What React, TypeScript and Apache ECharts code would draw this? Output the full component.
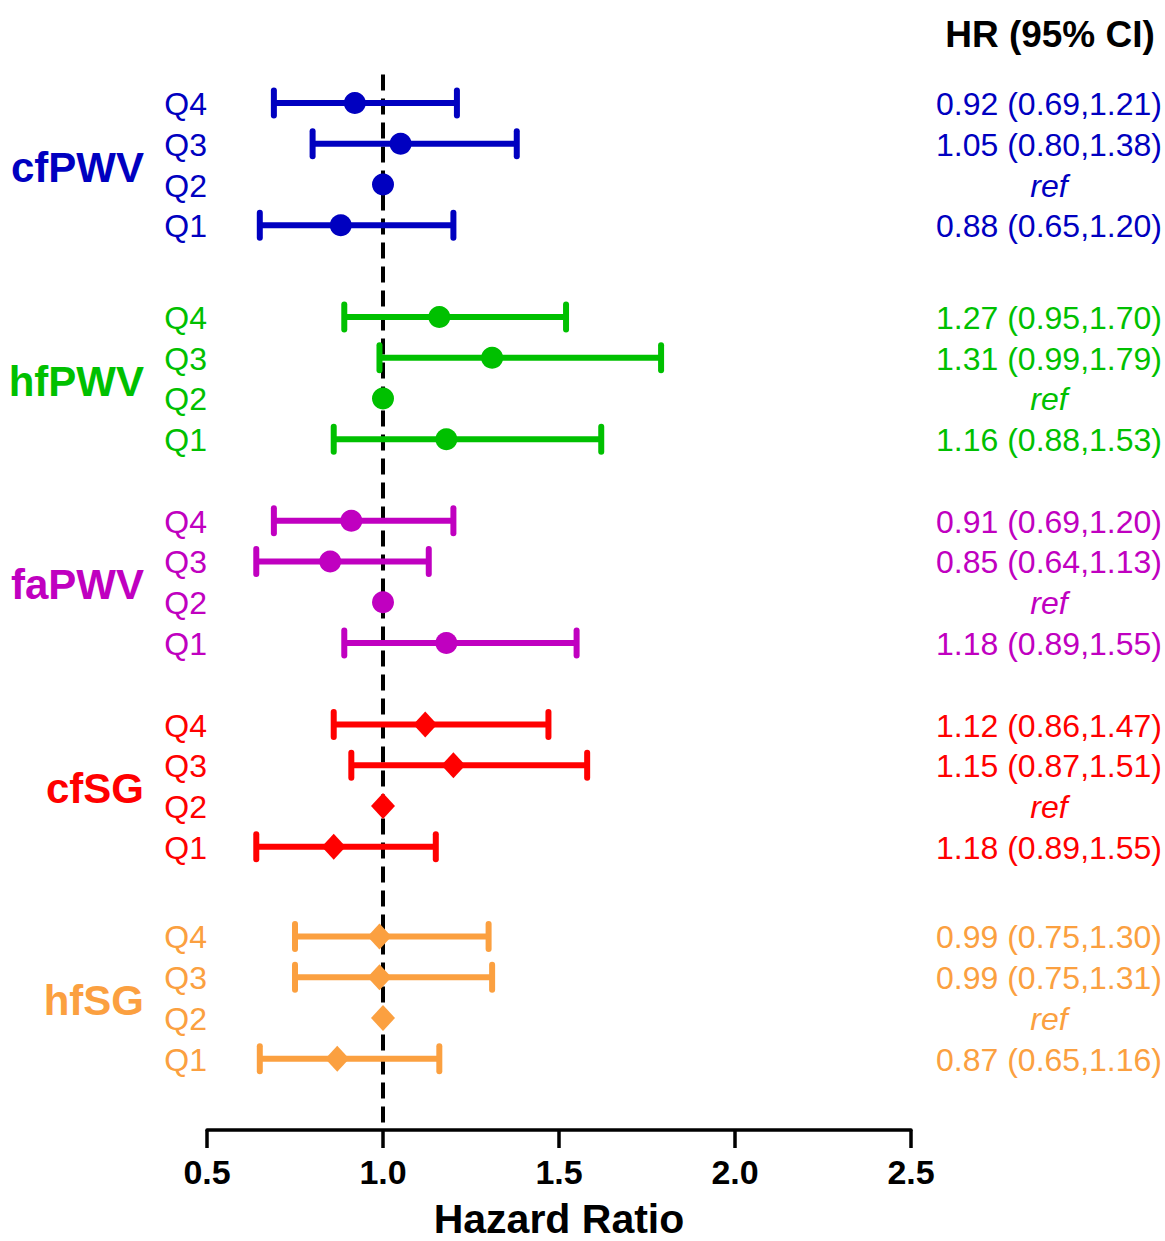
import React, { useEffect, useRef } from "react";
import * as echarts from "echarts";

// ---------- data ----------
const groups = ["cfPWV", "hfPWV", "faPWV", "cfSG", "hfSG"];
const groupColors = ["#0000C0", "#00C000", "#C000C0", "#FF0000", "#FBA040"];
const groupSymbols = ["circle", "circle", "circle", "diamond", "diamond"];
const quartiles = ["Q4", "Q3", "Q2", "Q1"];
// row index of each group's first quartile (Q4) on the vertical scale
const groupRowStart = [0, 5.25, 10.25, 15.25, 20.45];

const xTicks = [0.5, 1.0, 1.5, 2.0, 2.5];
const refHR = 1.0;

// plotted hazard ratios and confidence limits (Q4, Q3, Q2, Q1)
const cfPWV_hr = [0.92, 1.05, 1.0, 0.88];
const cfPWV_lo = [0.69, 0.8, null, 0.65];
const cfPWV_hi = [1.21, 1.38, null, 1.2];

const hfPWV_hr = [1.16, 1.31, 1.0, 1.18];
const hfPWV_lo = [0.89, 0.99, null, 0.86];
const hfPWV_hi = [1.52, 1.79, null, 1.62];

const faPWV_hr = [0.91, 0.85, 1.0, 1.18];
const faPWV_lo = [0.69, 0.64, null, 0.89];
const faPWV_hi = [1.2, 1.13, null, 1.55];

const cfSG_hr = [1.12, 1.2, 1.0, 0.86];
const cfSG_lo = [0.86, 0.91, null, 0.64];
const cfSG_hi = [1.47, 1.58, null, 1.15];

const hfSG_hr = [0.99, 0.99, 1.0, 0.87];
const hfSG_lo = [0.75, 0.75, null, 0.65];
const hfSG_hi = [1.3, 1.31, null, 1.16];

// printed HR (95% CI) column
const cfPWV_text = ["0.92 (0.69,1.21)", "1.05 (0.80,1.38)", "ref", "0.88 (0.65,1.20)"];
const hfPWV_text = ["1.27 (0.95,1.70)", "1.31 (0.99,1.79)", "ref", "1.16 (0.88,1.53)"];
const faPWV_text = ["0.91 (0.69,1.20)", "0.85 (0.64,1.13)", "ref", "1.18 (0.89,1.55)"];
const cfSG_text = ["1.12 (0.86,1.47)", "1.15 (0.87,1.51)", "ref", "1.18 (0.89,1.55)"];
const hfSG_text = ["0.99 (0.75,1.30)", "0.99 (0.75,1.31)", "ref", "0.87 (0.65,1.16)"];

const headerText = "HR (95% CI)";
const xAxisTitle = "Hazard Ratio";

const allHR = [cfPWV_hr, hfPWV_hr, faPWV_hr, cfSG_hr, hfSG_hr];
const allLo = [cfPWV_lo, hfPWV_lo, faPWV_lo, cfSG_lo, hfSG_lo];
const allHi = [cfPWV_hi, hfPWV_hi, faPWV_hi, cfSG_hi, hfSG_hi];
const allText = [cfPWV_text, hfPWV_text, faPWV_text, cfSG_text, hfSG_text];

// ---------- layout ----------
const W = 1165;
const H = 1241;
const FONT = "'Liberation Sans', Arial, Helvetica, sans-serif";
const Y_MIN = -1.5;
const Y_MAX = 25.2;
const REF_TOP = -0.7;
const VALUE_COL_X = 1049;
const GROUP_LABEL_RIGHT = 144;
const Q_LABEL_RIGHT = 207;

export default function App() {
  const ref = useRef<HTMLDivElement>(null);

  useEffect(() => {
    if (!ref.current) return;
    const chart = echarts.init(ref.current, null, { renderer: "svg" });

    const series: any[] = [];

    // reference line at HR = 1
    series.push({
      type: "line",
      data: [
        [refHR, REF_TOP],
        [refHR, Y_MAX],
      ],
      symbol: "none",
      lineStyle: { color: "#000", width: 4, type: [16, 8] },
      z: 1,
      silent: true,
    });

    groups.forEach((g, gi) => {
      const color = groupColors[gi];
      const rowY = quartiles.map((_, qi) => groupRowStart[gi] + qi);

      // error bars
      const barData: any[] = [];
      quartiles.forEach((_, qi) => {
        const lo = allLo[gi][qi];
        const hi = allHi[gi][qi];
        if (lo != null && hi != null) barData.push([lo, hi, rowY[qi]]);
      });
      series.push({
        type: "custom",
        clip: false,
        z: 2,
        silent: true,
        data: barData,
        encode: { x: [0, 1], y: 2 },
        renderItem: (params: any, api: any) => {
          const y = api.value(2);
          const a = api.coord([api.value(0), y]);
          const b = api.coord([api.value(1), y]);
          const st = { stroke: color, lineWidth: 6, lineCap: "round" };
          const cap = 12.5;
          return {
            type: "group",
            children: [
              { type: "line", shape: { x1: a[0], y1: a[1], x2: b[0], y2: b[1] }, style: { stroke: color, lineWidth: 6 } },
              { type: "line", shape: { x1: a[0], y1: a[1] - cap, x2: a[0], y2: a[1] + cap }, style: st },
              { type: "line", shape: { x1: b[0], y1: b[1] - cap, x2: b[0], y2: b[1] + cap }, style: st },
            ],
          };
        },
      });

      // point estimates
      series.push({
        type: "scatter",
        z: 3,
        silent: true,
        symbol: groupSymbols[gi],
        symbolSize: groupSymbols[gi] === "circle" ? 22 : [24, 26],
        itemStyle: { color, opacity: 1 },
        data: quartiles.map((_, qi) => [allHR[gi][qi], rowY[qi]]),
      });

      // texts: quartile labels + HR column
      series.push({
        type: "custom",
        clip: false,
        z: 4,
        silent: true,
        data: quartiles.map((_, qi) => [xTicks[0], rowY[qi], qi]),
        encode: { x: 0, y: 1 },
        renderItem: (params: any, api: any) => {
          const qi = api.value(2);
          const p = api.coord([api.value(0), api.value(1)]);
          const txt = allText[gi][qi];
          return {
            type: "group",
            children: [
              {
                type: "text",
                x: Q_LABEL_RIGHT,
                y: p[1] + 1,
                style: {
                  text: quartiles[qi],
                  fill: color,
                  font: `32px ${FONT}`,
                  align: "right",
                  verticalAlign: "middle",
                },
              },
              {
                type: "text",
                x: VALUE_COL_X,
                y: p[1] + 1,
                style: {
                  text: txt,
                  fill: color,
                  font: `${txt === "ref" ? "italic " : ""}32px ${FONT}`,
                  align: "center",
                  verticalAlign: "middle",
                },
              },
            ],
          };
        },
      });

      // group label
      series.push({
        type: "custom",
        clip: false,
        z: 4,
        silent: true,
        data: [[xTicks[0], groupRowStart[gi] + 1.5]],
        encode: { x: 0, y: 1 },
        renderItem: (params: any, api: any) => {
          const p = api.coord([api.value(0), api.value(1)]);
          return {
            type: "text",
            x: GROUP_LABEL_RIGHT,
            y: p[1] + 3,
            style: {
              text: g,
              fill: color,
              font: `bold 42px ${FONT}`,
              align: "right",
              verticalAlign: "middle",
            },
          };
        },
      });
    });

    const option: any = {
      animation: false,
      backgroundColor: "#fff",
      grid: {
        left: 207,
        right: W - 911,
        top: 41.875,
        bottom: H - 1130,
        containLabel: false,
        outerBoundsMode: "none",
      },
      xAxis: {
        type: "value",
        min: xTicks[0],
        max: xTicks[xTicks.length - 1],
        interval: 0.5,
        splitLine: { show: false },
        axisLine: { show: true, onZero: false, lineStyle: { color: "#000", width: 3.5 } },
        axisTick: { show: true, length: 18, lineStyle: { color: "#000", width: 3.5 } },
        axisLabel: {
          color: "#000",
          fontFamily: FONT,
          fontWeight: "bold",
          fontSize: 34,
          margin: 25,
          formatter: (v: number) => v.toFixed(1),
        },
        name: xAxisTitle,
        nameLocation: "middle",
        nameGap: 68,
        nameTextStyle: {
          color: "#000",
          fontFamily: FONT,
          fontWeight: "bold",
          fontSize: 41,
          lineHeight: 41,
          verticalAlign: "top",
        },
      },
      yAxis: {
        type: "value",
        inverse: true,
        min: Y_MIN,
        max: Y_MAX,
        show: false,
      },
      graphic: [
        {
          type: "text",
          x: 1050,
          y: 34,
          style: {
            text: headerText,
            fill: "#000",
            font: `bold 37px ${FONT}`,
            align: "center",
            verticalAlign: "middle",
          },
        },
      ],
      series,
    };

    chart.setOption(option);
    return () => chart.dispose();
  }, []);

  return (
    <div
      ref={ref}
      style={{ position: "absolute", left: 0, top: 0, width: W + "px", height: H + "px", background: "#fff" }}
    />
  );
}
